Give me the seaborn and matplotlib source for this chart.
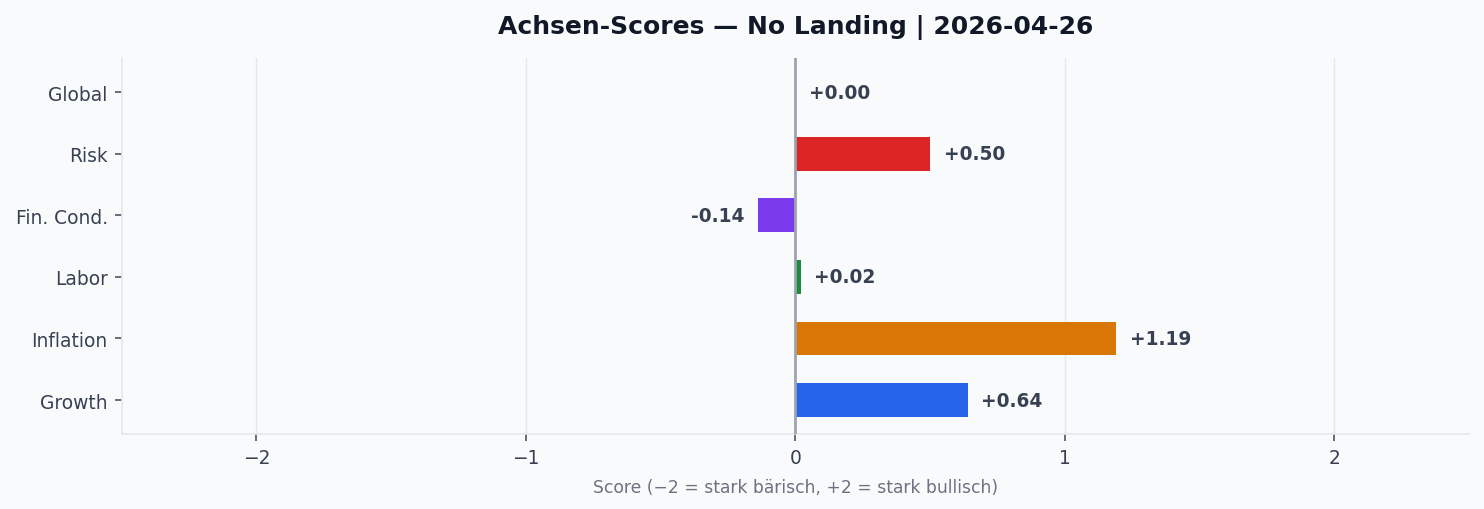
import matplotlib
matplotlib.use("agg")
import matplotlib.pyplot as plt
import pandas as pd
import seaborn as sns

# Data
axes_names = ["Global", "Risk", "Fin. Cond.", "Labor", "Inflation", "Growth"]
scores = [0.00, 0.50, -0.14, 0.02, 1.19, 0.64]
bar_colors = ["#9ca3af", "#dc2626", "#7c3aed", "#1e8a3e", "#d97706", "#2563eb"]
x_ticks = [-2, -1, 0, 1, 2]

title = "Achsen-Scores \u2014 No Landing | 2026-04-26"
x_label = "Score (\u22122 = stark b\u00e4risch, +2 = stark bullisch)"

bg = "#f8fafc"
text_dark = "#374151"
bar_h = 0.55

sns.set_theme(style="white")
plt.rcParams["font.family"] = ["DejaVu Sans"]

df = pd.DataFrame({"axis": axes_names, "score": scores})

fig, ax = plt.subplots(figsize=(14.84, 5.1), dpi=100)
fig.patch.set_facecolor(bg)
ax.set_facecolor(bg)

sns.barplot(
    data=df, x="score", y="axis", hue="axis", palette=bar_colors,
    legend=False, width=bar_h, orient="h", ax=ax, saturation=1, linewidth=0,
)

ax.axvline(0, color="#9ca3af", lw=2, zorder=3)
ax.set_xlim(-2.5, 2.5)
ax.set_xticks(x_ticks)
# default 5% margin around the bars, like a plain barh
n = len(axes_names)
pad = 0.05 * ((n - 1) + bar_h)
ax.set_ylim(n - 1 + bar_h / 2 + pad, -bar_h / 2 - pad)
ax.grid(axis="x", color="#e5e7eb", lw=1)
ax.set_axisbelow(True)

for i, v in enumerate(scores):
    offset = 0.05 if v >= 0 else -0.05
    ax.text(v + offset, i, f"{v:+.2f}", va="center",
            ha="left" if v >= 0 else "right",
            fontsize=13.4, fontweight="bold", color=text_dark)

ax.set_title(title, fontsize=18, fontweight="bold", color="#111827", pad=18)
ax.set_xlabel(x_label, fontsize=12.3, color="#6b7280", labelpad=8)
ax.set_ylabel("")

ax.tick_params(axis="both", labelsize=13.4, colors="#4b5563", labelcolor=text_dark,
               length=5, width=1.2, left=True, bottom=True, pad=5)
for side in ["top", "right"]:
    ax.spines[side].set_visible(False)
for side in ["left", "bottom"]:
    ax.spines[side].set_color("#e5e7eb")
    ax.spines[side].set_linewidth(1.2)

fig.subplots_adjust(left=0.082, right=0.99, top=0.884, bottom=0.147)
fig.savefig("out.png", dpi=100, facecolor=bg)
